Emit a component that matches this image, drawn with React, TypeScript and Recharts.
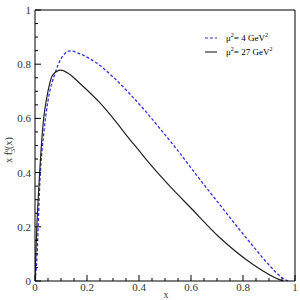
import { LineChart, Line, XAxis, YAxis } from "recharts"

const xLow = [0, 0.0065, 0.019, 0.035, 0.05, 0.077, 0.1, 0.135, 0.173, 0.25, 0.301, 0.365, 0.429, 0.481, 0.538, 0.622, 0.712, 0.782, 0.84, 0.904, 0.96, 0.975]
const yLow = [0, 0.07, 0.37, 0.557, 0.665, 0.766, 0.82, 0.849, 0.838, 0.795, 0.752, 0.69, 0.622, 0.562, 0.495, 0.39, 0.28, 0.195, 0.127, 0.055, 0.006, 0]

const xHigh = [0, 0.0065, 0.015, 0.029, 0.051, 0.068, 0.099, 0.13, 0.173, 0.25, 0.301, 0.365, 0.391, 0.442, 0.532, 0.596, 0.705, 0.84, 0.94, 0.955]
const yHigh = [0, 0.188, 0.35, 0.557, 0.705, 0.76, 0.778, 0.765, 0.729, 0.657, 0.6, 0.522, 0.492, 0.432, 0.336, 0.273, 0.165, 0.06, 0.005, 0]

const ticks = [0, 0.05, 0.1, 0.15, 0.2, 0.25, 0.3, 0.35, 0.4, 0.45, 0.5, 0.55, 0.6, 0.65, 0.7, 0.75, 0.8, 0.85, 0.9, 0.95, 1]
const majorLabels: Record<string, string> = { "0": "0", "0.2": "0.2", "0.4": "0.4", "0.6": "0.6", "0.8": "0.8", "1": "1" }

const lowData = xLow.map((x, i) => ({ x, y: yLow[i] }))
const highData = xHigh.map((x, i) => ({ x, y: yHigh[i] }))

const font = "'Liberation Serif', 'Times New Roman', serif"
const textColor = "#333"
const blue = "#3030e8"

const label = (v: number) => majorLabels[String(Math.round(v * 100) / 100)]

function BottomTick(props: any) {
  const { x, y, payload } = props
  const l = label(payload.value)
  return (
    <g>
      <line x1={x} x2={x} y1={y} y2={y - (l ? 6 : 3)} stroke="#000" />
      {l && <text x={x} y={y + 10} textAnchor="middle" fontSize={11} fontFamily={font} fill={textColor}>{l}</text>}
    </g>
  )
}
function TopTick(props: any) {
  const { x, y, payload } = props
  const l = label(payload.value)
  return <line x1={x} x2={x} y1={y} y2={y + (l ? 6 : 3)} stroke="#000" />
}
function LeftTick(props: any) {
  const { x, y, payload } = props
  const l = label(payload.value)
  return (
    <g>
      <line x1={x} x2={x + (l ? 6 : 3)} y1={y} y2={y} stroke="#000" />
      {l && <text x={x - 4} y={y + 4} textAnchor="end" fontSize={11} fontFamily={font} fill={textColor}>{l}</text>}
    </g>
  )
}
function RightTick(props: any) {
  const { x, y, payload } = props
  const l = label(payload.value)
  return <line x1={x} x2={x - (l ? 6 : 3)} y1={y} y2={y} stroke="#000" />
}

export default function App() {
  return (
    <div style={{ position: "absolute", left: 0, top: 0, width: 300, height: 300, background: "#fff" }}>
      <LineChart width={300} height={300} margin={{ top: 0, right: 0, bottom: 0, left: 0 }}>
        <XAxis xAxisId="b" type="number" dataKey="x" domain={[0, 1]} ticks={ticks} interval={0} height={19}
          tickSize={0} tickMargin={0} tickLine={false} tick={<BottomTick />} axisLine={{ stroke: "#000" }} allowDataOverflow />
        <XAxis xAxisId="t" orientation="top" type="number" dataKey="x" domain={[0, 1]} ticks={ticks} interval={0} height={10}
          tickSize={0} tickMargin={0} tickLine={false} tick={<TopTick />} axisLine={{ stroke: "#000" }} />
        <YAxis yAxisId="l" type="number" domain={[0, 1]} ticks={ticks} interval={0} width={35}
          tickSize={0} tickMargin={0} tickLine={false} tick={<LeftTick />} axisLine={{ stroke: "#000" }} />
        <YAxis yAxisId="r" orientation="right" type="number" domain={[0, 1]} ticks={ticks} interval={0} width={5}
          tickSize={0} tickMargin={0} tickLine={false} tick={<RightTick />} axisLine={{ stroke: "#000" }} />
        <Line xAxisId="b" yAxisId="l" data={lowData} dataKey="y" type="monotone" stroke={blue} strokeWidth={1.3}
          strokeDasharray="3 2" dot={false} isAnimationActive={false} name="low" />
        <Line xAxisId="b" yAxisId="l" data={highData} dataKey="y" type="monotone" stroke="#222" strokeWidth={1.2}
          dot={false} isAnimationActive={false} name="high" />
        <g transform="translate(202, 32)">
          <line x1={3} x2={15} y1={6} y2={6} stroke={blue} strokeDasharray="3 2" strokeWidth={1.2} />
          <text x={24} y={9} fontSize={9} fontFamily={font} fill="#000">
            μ<tspan fontSize={6} dy={-4}>2</tspan><tspan dy={4}>= 4 GeV</tspan><tspan fontSize={6} dy={-4}>2</tspan>
          </text>
          <line x1={3} x2={15} y1={20} y2={20} stroke="#333" strokeWidth={1.2} />
          <text x={24} y={23} fontSize={9} fontFamily={font} fill="#000">
            μ<tspan fontSize={6} dy={-4}>2</tspan><tspan dy={4}>= 27 GeV</tspan><tspan fontSize={6} dy={-4}>2</tspan>
          </text>
        </g>
        <text x={166} y={298} textAnchor="middle" fontSize={10} fontFamily={font} fill={textColor}>x</text>
        <text x={12} y={150} transform="rotate(-90 12 150)" textAnchor="middle" fontSize={10} fontFamily={font} fill={textColor}>
          x f<tspan fontSize={7} dy={-4}>q</tspan><tspan fontSize={7} dx={-4} dy={7}>3</tspan><tspan dy={-3}>(x)</tspan>
        </text>
      </LineChart>
    </div>
  )
}
